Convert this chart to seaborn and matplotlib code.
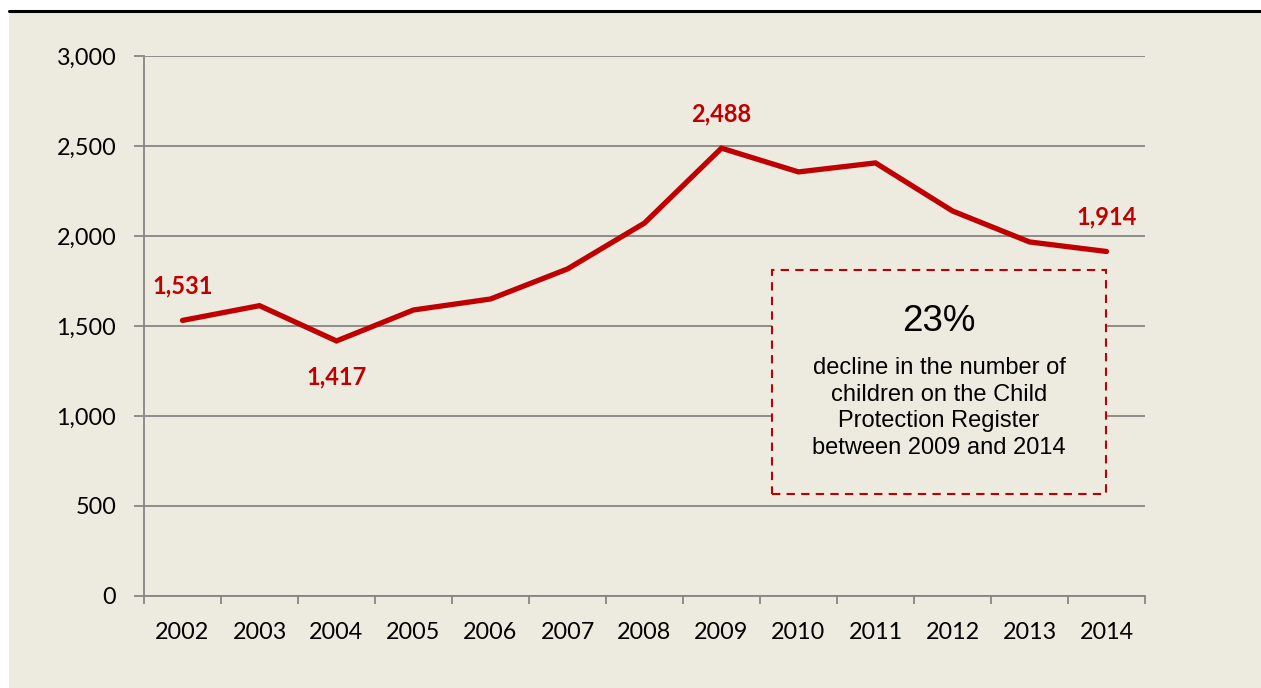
import pandas as pd
import matplotlib.pyplot as plt
import seaborn as sns
from matplotlib.patches import Rectangle
from matplotlib.lines import Line2D
from matplotlib.ticker import FixedLocator, FuncFormatter

# data
years = ["2002", "2003", "2004", "2005", "2006", "2007", "2008",
         "2009", "2010", "2011", "2012", "2013", "2014"]
children = [1531, 1613, 1417, 1589, 1650, 1817, 2072,
            2488, 2356, 2406, 2139, 1967, 1914]
labelled = {"2002": "above", "2004": "below", "2009": "above", "2014": "above"}
y_ticks = [0, 500, 1000, 1500, 2000, 2500, 3000]

RED = "#C00000"
GRID = "#868686"
BG = "#EDEBE0"

sns.set_theme(style="white")
plt.rcParams["font.family"] = ["Lato", "DejaVu Sans"]
plt.rcParams["text.color"] = "black"

df = pd.DataFrame({"Year": years, "Children": children})

fig = plt.figure(figsize=(12.61, 6.88), dpi=100, facecolor="white")
# beige panel + black rule across the top
fig.patches.append(Rectangle((9 / 1261, 0), 1 - 9 / 1261, 1 - 12 / 688,
                             transform=fig.transFigure, facecolor=BG,
                             edgecolor="none", zorder=-5))
fig.lines.append(Line2D([9 / 1261, 1], [1 - 11 / 688, 1 - 11 / 688],
                        transform=fig.transFigure, color="black", lw=2.2,
                        zorder=-4))

ax = fig.add_axes([144 / 1261, 1 - 596 / 688, 1001 / 1261, 540 / 688])
ax.set_facecolor("none")

sns.lineplot(data=df, x="Year", y="Children", ax=ax, color=RED,
             linewidth=3.8, sort=False, solid_joinstyle="miter",
             solid_capstyle="round")

ax.set_xlim(-0.5, len(years) - 0.5)
ax.set_ylim(0, 3000)
ax.set_yticks(y_ticks)
ax.yaxis.set_major_formatter(FuncFormatter(lambda v, p: f"{int(v):,}"))
ax.set_xticks(range(len(years)))
ax.set_xticklabels(years)
ax.xaxis.set_minor_locator(FixedLocator([i - 0.5 for i in range(len(years) + 1)]))

ax.grid(axis="y", color=GRID, linewidth=1.3)
ax.set_axisbelow(True)
for side in ["top", "right"]:
    ax.spines[side].set_visible(False)
for side in ["left", "bottom"]:
    ax.spines[side].set_color(GRID)
    ax.spines[side].set_linewidth(1.3)

ax.tick_params(axis="x", which="major", length=0, pad=19, labelsize=16.8,
               labelcolor="black")
ax.tick_params(axis="x", which="minor", length=6, width=1.3, color=GRID,
               direction="out", bottom=True)
ax.tick_params(axis="y", length=7, width=1.3, color=GRID, direction="out",
               left=True, pad=13, labelsize=16.8, labelcolor="black")
ax.set_xlabel("")
ax.set_ylabel("")

# data labels
for i, yr in enumerate(years):
    if yr in labelled:
        off = 25 if labelled[yr] == "above" else -26
        ax.annotate(f"{children[i]:,}", (i, children[i]), xytext=(0, off),
                    textcoords="offset points", ha="center", va="center",
                    color=RED, fontsize=17, fontweight="bold")

# dashed call-out box
x0, y0, x1, y1 = 772, 270, 1106, 494
fig.patches.append(Rectangle((x0 / 1261, 1 - y1 / 688), (x1 - x0) / 1261,
                             (y1 - y0) / 688, transform=fig.transFigure,
                             facecolor=BG, edgecolor=RED, linewidth=1.5,
                             linestyle=(0, (4, 3)), zorder=3))
cx = (x0 + x1) / 2 / 1261
fig.text(cx, 1 - 321 / 688, "23%", ha="center", va="center", fontsize=26.5,
         family="Liberation Sans", color="black", zorder=4)
fig.text(cx, 1 - 408 / 688,
         "decline in the number of\nchildren on the Child\nProtection Register\nbetween 2009 and 2014",
         ha="center", va="center", fontsize=17, family="Liberation Sans",
         color="black", linespacing=1.26, zorder=4)

fig.savefig("out.png", dpi=100, facecolor="white")
